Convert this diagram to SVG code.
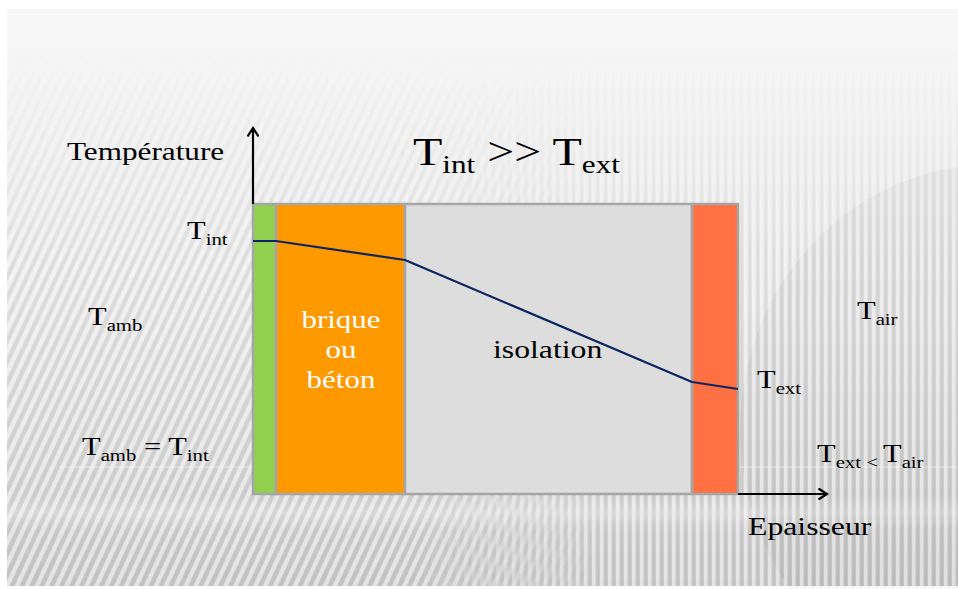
<svg xmlns="http://www.w3.org/2000/svg" width="958" height="589" viewBox="0 0 958 589">
  <defs>
    <style>
      .w { fill: #fff; }
      .layer { stroke: #a6a6a6; stroke-width: 2.5; }
      .axis { stroke: #000; stroke-width: 2.2; fill: none; marker-end: url(#arr); }
      .profile { stroke: #0d2462; stroke-width: 2.2; fill: none; stroke-linejoin: round; }
    </style>
    <marker id="arr" viewBox="0 0 12 12" refX="10" refY="6" markerWidth="12" markerHeight="12" markerUnits="userSpaceOnUse" orient="auto">
      <path d="M1.5,0.5 L10,6 L1.5,11.5" fill="none" stroke="#000" stroke-width="2.2"/>
    </marker>
    <linearGradient id="bg" x1="0" y1="9" x2="0" y2="586" gradientUnits="userSpaceOnUse">
      <stop offset="0" stop-color="#f7f7f7"/>
      <stop offset="0.12" stop-color="#f4f4f4"/>
      <stop offset="0.45" stop-color="#e6e6e6"/>
      <stop offset="0.8" stop-color="#d6d6d6"/>
      <stop offset="1" stop-color="#c9c9c9"/>
    </linearGradient>
    <pattern id="stV" width="8" height="8" patternUnits="userSpaceOnUse">
      <rect x="0" width="3.5" height="8" fill="#fff" fill-opacity="0.5"/>
      <rect x="4.5" width="2.5" height="8" fill="#000" fill-opacity="0.035"/>
    </pattern>
    <pattern id="stD" width="9" height="9" patternUnits="userSpaceOnUse" patternTransform="rotate(25)">
      <rect x="0" width="4" height="9" fill="#fff" fill-opacity="0.5"/>
      <rect x="5" width="3" height="9" fill="#000" fill-opacity="0.035"/>
    </pattern>
    <linearGradient id="fadeV" x1="0" y1="40" x2="0" y2="260" gradientUnits="userSpaceOnUse">
      <stop offset="0" stop-color="#000"/>
      <stop offset="1" stop-color="#fff"/>
    </linearGradient>
    <linearGradient id="fadeL" x1="420" y1="0" x2="600" y2="0" gradientUnits="userSpaceOnUse">
      <stop offset="0" stop-color="#fff"/>
      <stop offset="1" stop-color="#000"/>
    </linearGradient>
    <linearGradient id="fadeR" x1="420" y1="0" x2="600" y2="0" gradientUnits="userSpaceOnUse">
      <stop offset="0" stop-color="#000"/>
      <stop offset="1" stop-color="#fff"/>
    </linearGradient>
    <mask id="mV" maskUnits="userSpaceOnUse" x="0" y="0" width="958" height="589">
      <rect width="958" height="589" fill="url(#fadeV)"/>
    </mask>
    <mask id="mL" maskUnits="userSpaceOnUse" x="0" y="0" width="958" height="589">
      <rect width="958" height="589" fill="url(#fadeL)"/>
    </mask>
    <mask id="mR" maskUnits="userSpaceOnUse" x="0" y="0" width="958" height="589">
      <rect width="958" height="589" fill="url(#fadeR)"/>
    </mask>
    <linearGradient id="band" x1="0" y1="495" x2="0" y2="530" gradientUnits="userSpaceOnUse">
      <stop offset="0" stop-color="#fff" stop-opacity="0"/>
      <stop offset="0.5" stop-color="#fff" stop-opacity="0.25"/>
      <stop offset="1" stop-color="#fff" stop-opacity="0"/>
    </linearGradient>
  </defs>

  <!-- background -->
  <rect width="958" height="589" fill="#fff"/>
  <rect x="7" y="9" width="951" height="577" fill="url(#bg)"/>
  <ellipse cx="990" cy="430" rx="250" ry="265" fill="#000" fill-opacity="0.035"/>
  <g mask="url(#mV)">
    <rect x="7" y="9" width="951" height="577" fill="url(#stD)" mask="url(#mL)"/>
    <rect x="7" y="9" width="951" height="577" fill="url(#stV)" mask="url(#mR)"/>
  </g>
  <rect x="7" y="495" width="951" height="35" fill="url(#band)"/>
  <line x1="60" y1="467" x2="253" y2="467" stroke="#fff" stroke-opacity="0.5" stroke-width="1"/>
  <line x1="738" y1="467" x2="958" y2="467" stroke="#fff" stroke-opacity="0.5" stroke-width="1"/>

  <!-- wall layers -->
  <g id="layer-finish">
    <rect class="layer" x="253" y="204" width="23" height="290" fill="#92d050"/>
  </g>
  <g id="layer-brick">
    <rect class="layer" x="276" y="204" width="129" height="290" fill="#ff9900"/>
    <text class="w" font-family="Liberation Serif" font-size="25" text-anchor="middle" transform="translate(341,328) scale(1.24,1)"><tspan x="0" y="0">brique</tspan><tspan x="0" y="30">ou</tspan><tspan x="0" y="60">béton</tspan></text>
  </g>
  <g id="layer-insulation">
    <rect class="layer" x="405" y="204" width="287" height="290" fill="#dddddd"/>
    <text font-family="Liberation Serif" font-size="26" transform="translate(493,358) scale(1.22,1)">isolation</text>
  </g>
  <g id="layer-render">
    <rect class="layer" x="692" y="204" width="46" height="290" fill="#ff7043"/>
  </g>

  <!-- temperature profile -->
  <g id="profile">
    <polyline class="profile" points="253,241 276,241 405,260 692,382 738,389"/>
  </g>

  <!-- axes -->
  <g id="connectors">
    <line class="axis" x1="253" y1="204" x2="253" y2="128"/>
    <line class="axis" x1="738" y1="494" x2="827" y2="494"/>
  </g>

  <!-- labels -->
  <g id="label-temperature">
    <text font-family="Liberation Serif" font-size="26" transform="translate(67,160) scale(1.2,1)">Température</text>
  </g>
  <g id="title">
    <text font-family="Liberation Serif" font-size="40" transform="translate(413,165) scale(1.2,1)">T<tspan font-size="26" dy="8">int</tspan><tspan dy="-8"> &gt;&gt; T</tspan><tspan font-size="26" dy="8">ext</tspan></text>
  </g>
  <g id="label-tint">
    <text font-family="Liberation Serif" font-size="25" transform="translate(187,239) scale(1.22,1)">T<tspan font-size="17" dy="6">int</tspan></text>
  </g>
  <g id="label-tamb">
    <text font-family="Liberation Serif" font-size="25" transform="translate(88,325) scale(1.22,1)">T<tspan font-size="17" dy="6">amb</tspan></text>
  </g>
  <g id="label-tamb-eq">
    <text font-family="Liberation Serif" font-size="25" transform="translate(82,455) scale(1.22,1)">T<tspan font-size="17" dy="6">amb</tspan><tspan dy="-6"> = T</tspan><tspan font-size="17" dy="6">int</tspan></text>
  </g>
  <g id="label-tair">
    <text font-family="Liberation Serif" font-size="25" transform="translate(857,319) scale(1.22,1)">T<tspan font-size="17" dy="6">air</tspan></text>
  </g>
  <g id="label-text">
    <text font-family="Liberation Serif" font-size="25" transform="translate(757,388) scale(1.22,1)">T<tspan font-size="17" dy="6">ext</tspan></text>
  </g>
  <g id="label-text-lt">
    <text font-family="Liberation Serif" font-size="25" transform="translate(817,462) scale(1.22,1)">T<tspan font-size="17" dy="6">ext &lt; </tspan><tspan dy="-6">T</tspan><tspan font-size="17" dy="6">air</tspan></text>
  </g>
  <g id="label-epaisseur">
    <text font-family="Liberation Serif" font-size="25" transform="translate(748,535) scale(1.27,1)">Epaisseur</text>
  </g>
</svg>
